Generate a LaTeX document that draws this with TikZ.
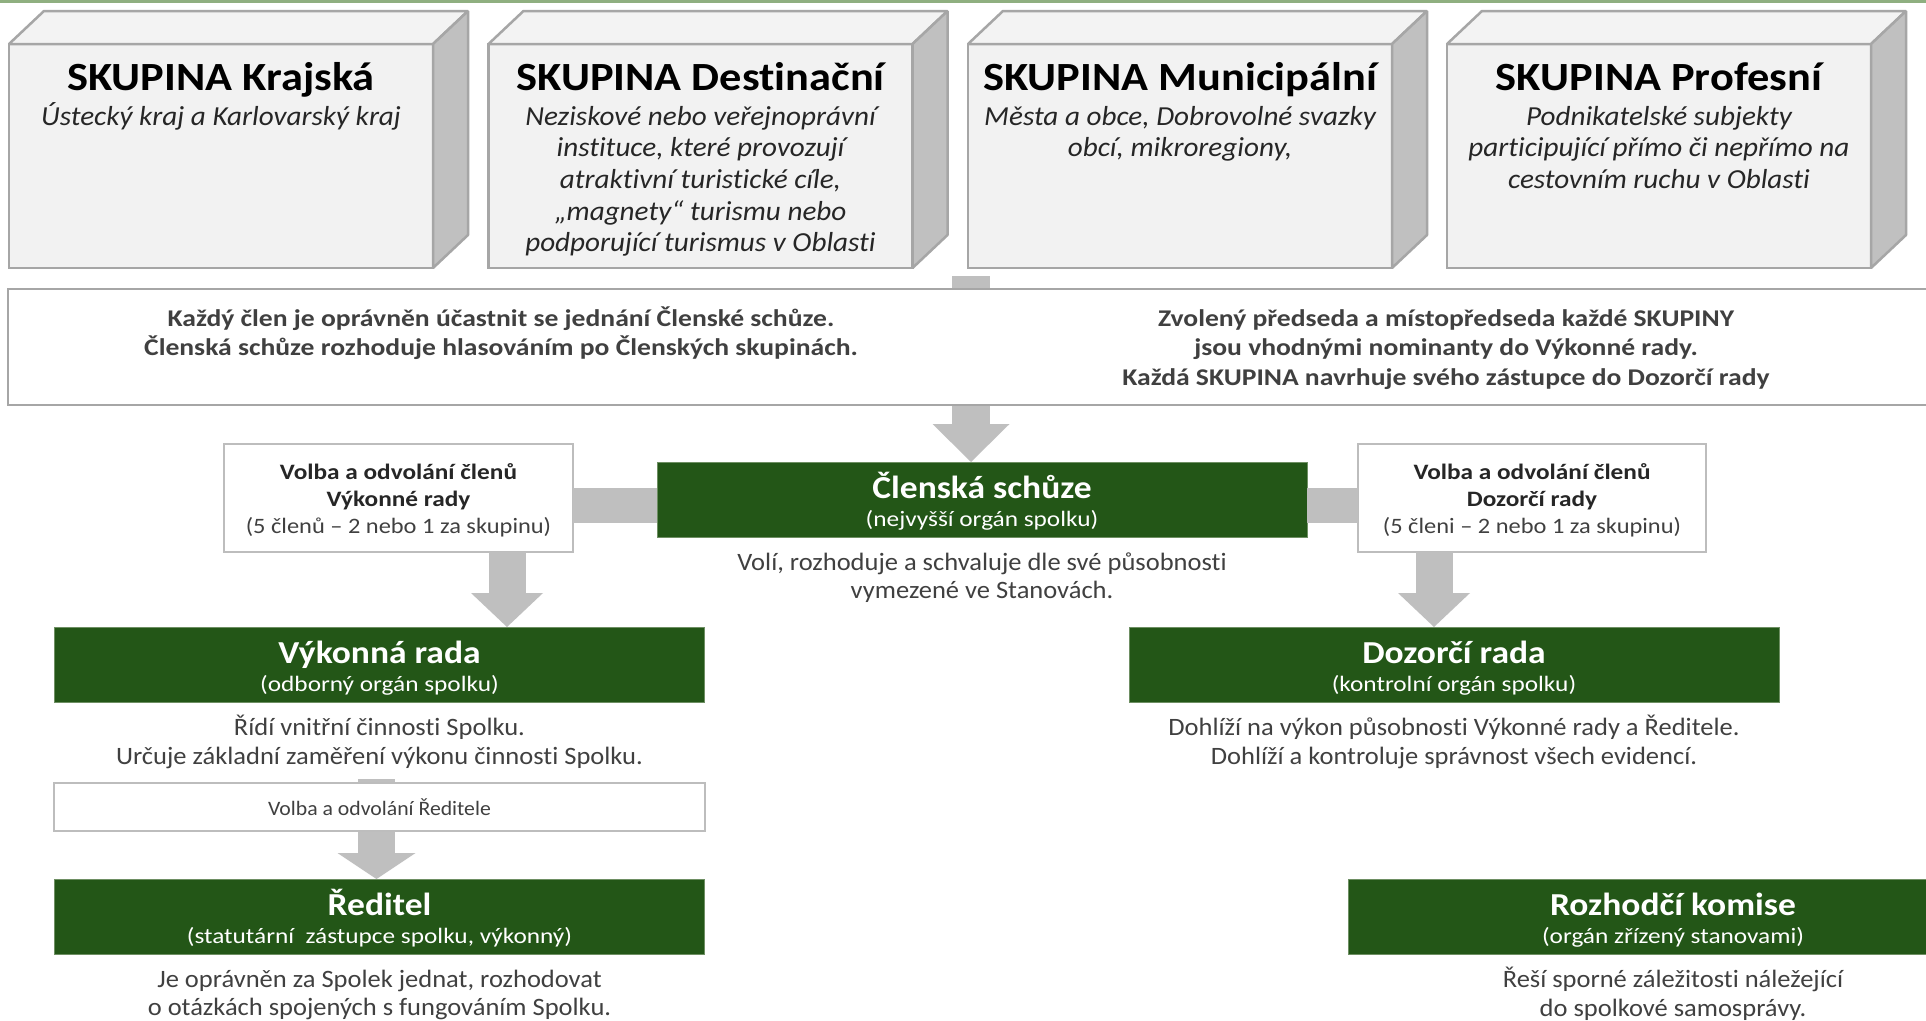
\documentclass[tikz,border=0pt]{standalone}
\usepackage{fontspec}
\setmainfont{Carlito}[Ligatures=NoCommon]
\newfontfamily\stA[FakeStretch=1.06,Ligatures=NoCommon]{Carlito}
\newfontfamily\stB[FakeStretch=1.11,Ligatures=NoCommon]{Carlito}
\newfontfamily\stC[FakeStretch=1.15,Ligatures=NoCommon]{Carlito}
\usetikzlibrary{arrows.meta}
\definecolor{gboxc}{HTML}{235617}
\definecolor{gedge}{HTML}{6E8F63}
\definecolor{garrow}{HTML}{BFBFBF}
\definecolor{bedge}{HTML}{A6A6A6}
\definecolor{wedge}{HTML}{BDBDBD}
\definecolor{frontc}{HTML}{F2F2F2}
\definecolor{topc}{HTML}{F3F3F3}
\definecolor{sidec}{HTML}{C0C0C0}
\definecolor{txt}{HTML}{404040}
\definecolor{dtxt}{HTML}{262626}
\definecolor{topline}{HTML}{8FAF80}
\begin{document}
\begin{tikzpicture}[x=1pt,y=-1pt,
  front3d/.style={draw=bedge, fill=frontc, line width=2.5pt, minimum width=424pt, minimum height=224pt, inner sep=0pt, outer sep=0pt},
  topface/.style={draw=bedge, fill=topc, line width=2.5pt, line join=bevel},
  sideface/.style={draw=bedge, fill=sidec, line width=2.5pt, line join=bevel},
  t3d/.style={font=\stB\fontsize{40}{47}\selectfont\bfseries, text=black, inner sep=0pt, anchor=base},
  s3d/.style={font=\stA\fontsize{27.5}{31.7}\selectfont\itshape, text=dtxt, inner sep=0pt, anchor=north, align=center},
  wbox/.style={draw=bedge, fill=white, line width=2.5pt, inner sep=0pt, outer sep=0pt},
  wtext/.style={font=\stC\fontsize{24}{29.5}\selectfont\bfseries, text=txt, inner sep=0pt, anchor=north, align=center},
  gbox/.style={draw=gedge, fill=gboxc, line width=1pt, minimum width=650pt, minimum height=75pt, inner sep=0pt, outer sep=0pt},
  gtitle/.style={font=\stB\fontsize{32}{37}\selectfont\bfseries, text=white, inner sep=0pt, anchor=base},
  gsub/.style={font=\stC\fontsize{22}{26}\selectfont, text=white, inner sep=0pt, anchor=base},
  bodytext/.style={font=\stA\fontsize{25}{28.5}\selectfont, text=txt, inner sep=0pt, anchor=north, align=center},
  vbox/.style={draw=wedge, fill=white, line width=2.5pt, inner sep=0pt, outer sep=0pt},
  vtext/.style={font=\stB\fontsize{22}{27}\selectfont, text=txt, inner sep=0pt, anchor=north, align=center},
  vsmall/.style={font=\stA\fontsize{20.5}{24}\selectfont, text=txt, inner sep=0pt, anchor=base},
  barrow/.style={draw=garrow, line width=37pt},
]
\useasboundingbox (0,0) rectangle (1926,1020);
\clip (0,0) rectangle (1926,1020);
\fill[white] (0,0) rectangle (1926,1020);
\fill[topline] (0,0) rectangle (1926,2.5);

% ---------- 3D group boxes ----------
\node[front3d] (k1) at (221,156) {};
\filldraw[topface] (k1.north west) -- ++(35,-33) -- ++(424,0) -- (k1.north east) -- cycle;
\filldraw[sideface] (k1.north east) -- ++(35,-33) -- ++(0,224) -- (k1.south east) -- cycle;
\node[front3d] (k2) at (700.5,156) {};
\filldraw[topface] (k2.north west) -- ++(35,-33) -- ++(424,0) -- (k2.north east) -- cycle;
\filldraw[sideface] (k2.north east) -- ++(35,-33) -- ++(0,224) -- (k2.south east) -- cycle;
\node[front3d] (k3) at (1180,156) {};
\filldraw[topface] (k3.north west) -- ++(35,-33) -- ++(424,0) -- (k3.north east) -- cycle;
\filldraw[sideface] (k3.north east) -- ++(35,-33) -- ++(0,224) -- (k3.south east) -- cycle;
\node[front3d] (k4) at (1659,156) {};
\filldraw[topface] (k4.north west) -- ++(35,-33) -- ++(424,0) -- (k4.north east) -- cycle;
\filldraw[sideface] (k4.north east) -- ++(35,-33) -- ++(0,224) -- (k4.south east) -- cycle;

\node[t3d] (k1t) at (221,90) {SKUPINA Krajská};
\node[s3d] (k1s) at (221,102.8) {\strut Ústecký kraj a Karlovarský kraj};
\node[t3d] (k2t) at (700.5,90) {SKUPINA Destinační};
\node[s3d] (k2s) at (700.5,102.8) {\strut Neziskové nebo veřejnoprávní\\ instituce, které provozují\\ atraktivní turistické cíle,\\ „magnety“ turismu nebo\\ podporující turismus v Oblasti};
\node[t3d] (k3t) at (1180,90) {SKUPINA Municipální};
\node[s3d] (k3s) at (1180,102.8) {\strut Města a obce, Dobrovolné svazky\\ obcí, mikroregiony,};
\node[t3d] (k4t) at (1659,90) {SKUPINA Profesní};
\node[s3d] (k4s) at (1659,102.8) {\strut Podnikatelské subjekty\\ participující přímo či nepřímo na\\ cestovním ruchu v Oblasti};

% ---------- green organ boxes ----------
\node[gbox] (cs) at (982,499.5) {};
\node[gbox] (vr) at (379.5,664.5) {};
\node[gbox] (dr) at (1454,664.5) {};
\node[gbox] (red) at (379.5,916.5) {};
\node[gbox] (rk) at (1673,916.5) {};

% top arrow (behind the wide box)
\coordinate (ta) at (971,276);
\draw[draw=garrow, line width=38pt, -{Triangle[width=77pt,length=38pt,line width=0pt]}] (ta) -- (ta |- cs.north);

% ---------- wide info box ----------
\node[wbox, minimum width=1992pt, minimum height=116pt] (wb) at (1004,347) {};
\node[wtext] (wbl) at (501,305.4) {\strut Každý člen je oprávněn účastnit se jednání Členské schůze.\\ Členská schůze rozhoduje hlasováním po Členských skupinách.};
\node[wtext] (wbr) at (1446,305.4) {\strut Zvolený předseda a místopředseda každé SKUPINY\\ jsou vhodnými nominanty do Výkonné rady.\\ Každá SKUPINA navrhuje svého zástupce do Dozorčí rady};

% ---------- election boxes ----------
\node[vbox, minimum width=349pt, minimum height=108pt] (volL) at (398.5,498) {};
\node[vbox, minimum width=348pt, minimum height=108pt] (volR) at (1532,498) {};
\node[vtext] (volLt) at (398.5,460.1) {\strut{\stC\bfseries\color{dtxt}Volba a odvolání členů}\\ {\stC\bfseries\color{dtxt}Výkonné rady}\\ (5 členů – 2 nebo 1 za skupinu)};
\node[vtext] (volRt) at (1532,460.1) {\strut{\stC\bfseries\color{dtxt}Volba a odvolání členů}\\ {\stC\bfseries\color{dtxt}Dozorčí rady}\\ (5 členi – 2 nebo 1 za skupinu)};

\coordinate (yb) at (0,505.5);
\draw[draw=garrow, line width=35pt] (volL.east |- yb) -- (cs.west |- yb);
\draw[draw=garrow, line width=35pt] (cs.east |- yb) -- (volR.west |- yb);

\coordinate (xL) at (507,0);
\coordinate (xR) at (1434,0);
\draw[barrow, -{Triangle[width=72pt,length=34pt,line width=0pt]}] (volL.south -| xL) -- (vr.north -| xL);
\draw[barrow, -{Triangle[width=72pt,length=34pt,line width=0pt]}] (volR.south -| xR) -- (dr.north -| xR);

% director arrow (behind the small box)
\coordinate (da) at (376.5,779);
\draw[barrow, -{Triangle[width=78pt,length=26pt,line width=0pt]}] (da) -- (da |- red.north);
\node[vbox, minimum width=651pt, minimum height=48pt] (vred) at (379.5,807) {};
\node[vsmall] (vredt) at (379.5,815) {Volba a odvolání Ředitele};

% ---------- titles in green boxes ----------
\node[gtitle] (csT) at ([yshift=-36pt]cs.north) {Členská schůze};
\node[gsub] (csS) at ([yshift=-64pt]cs.north) {(nejvyšší orgán spolku)};
\node[gtitle] (vrT) at ([yshift=-36pt]vr.north) {Výkonná rada};
\node[gsub] (vrS) at ([yshift=-64pt]vr.north) {(odborný orgán spolku)};
\node[gtitle] (drT) at ([yshift=-36pt]dr.north) {Dozorčí rada};
\node[gsub] (drS) at ([yshift=-64pt]dr.north) {(kontrolní orgán spolku)};
\node[gtitle] (redT) at ([yshift=-36pt]red.north) {Ředitel};
\node[gsub] (redS) at ([yshift=-64pt]red.north) {(statutární\ \ zástupce spolku, výkonný)};
\node[gtitle] (rkT) at ([yshift=-36pt]rk.north) {Rozhodčí komise};
\node[gsub] (rkS) at ([yshift=-64pt]rk.north) {(orgán zřízený stanovami)};

% ---------- descriptions ----------
\node[bodytext] (csB) at ([yshift=-13pt]cs.south) {\strut Volí, rozhoduje a schvaluje dle své působnosti\\ vymezené ve Stanovách.};
\node[bodytext] (vrB) at ([yshift=-13pt]vr.south) {\strut Řídí vnitřní činnosti Spolku.\\ Určuje základní zaměření výkonu činnosti Spolku.};
\node[bodytext] (drB) at ([yshift=-13pt]dr.south) {\strut Dohlíží na výkon působnosti Výkonné rady a Ředitele.\\ Dohlíží a kontroluje správnost všech evidencí.};
\node[bodytext] (redB) at ([yshift=-13pt]red.south) {\strut Je oprávněn za Spolek jednat, rozhodovat\\ o otázkách spojených s fungováním Spolku.};
\node[bodytext] (rkB) at ([yshift=-13pt]rk.south) {\strut Řeší sporné záležitosti náležející\\ do spolkové samosprávy.};
\end{tikzpicture}
\end{document}
